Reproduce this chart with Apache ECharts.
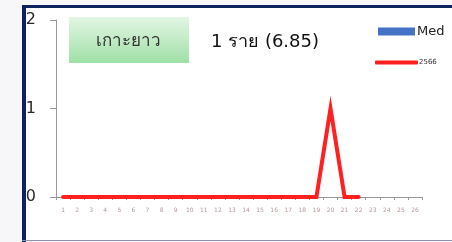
<!DOCTYPE html>
<html><head><meta charset="utf-8">
<script src="https://cdn.jsdelivr.net/npm/echarts@6/dist/echarts.min.js"></script>
<style>html,body{margin:0;padding:0;background:#f7f7f9;}#c{width:452px;height:242px;}</style>
</head><body><div id="c"></div>
<script>
const categories = ['1','2','3','4','5','6','7','8','9','10','11','12','13','14','15','16','17','18','19','20','21','22','23','24','25','26'];
const medValues = [0,0,0,0,0,0,0,0,0,0,0,0,0,0,0,0,0,0,0,0,0,0,0,0,0,0];
const y2566Values = [0,0,0,0,0,0,0,0,0,0,0,0,0,0,0,0,0,0,0,1,0,0];
const yTicks = [0,1,2];
const titleText = 'เกาะยาว';
const caseText = '1 ราย (6.85)';
const FONT = 'Tahoma, "DejaVu Sans", "Noto Sans", "Liberation Sans", sans-serif';

const chart = echarts.init(document.getElementById('c'), null, {renderer:'canvas'});
chart.setOption({
  backgroundColor: 'transparent',
  animation: false,
  graphic: [
    {type:'rect', z:-10, shape:{x:22,y:5,width:440,height:236}, style:{fill:'#ffffff'}},
    {type:'rect', z:-9, shape:{x:22,y:5,width:4,height:237}, style:{fill:'#0d2360'}},
    {type:'rect', z:-9, shape:{x:22,y:5,width:440,height:3}, style:{fill:'#0d2360'}},
    {type:'rect', z:-9, shape:{x:22,y:240,width:440,height:1}, style:{fill:'#8a93b0'}},
    {type:'rect', z:5, shape:{x:69,y:17,width:120,height:46},
      style:{fill:new echarts.graphic.LinearGradient(0,0,0,1,[{offset:0,color:'#e3f6e4'},{offset:1,color:'#9fe0a6'}])}},
    {type:'text', z:6, style:{text:titleText, x:128, y:42, textAlign:'center', textVerticalAlign:'middle', font:'17px '+FONT, fill:'#333'}},
    {type:'text', z:6, style:{text:caseText, x:211, y:42, textAlign:'left', textVerticalAlign:'middle', font:'18px '+FONT, fill:'#111'}}
  ],
  legend: [
    {data:['Med'], left:378, top:25, padding:0, icon:'rect', itemWidth:37, itemHeight:8, itemGap:4,
      textStyle:{fontSize:13, color:'#222', fontFamily:FONT, padding:[0,0,0,-3]}},
    {data:['2566'], left:375, top:59, padding:0, icon:'roundRect', itemWidth:43, itemHeight:4,
      textStyle:{fontSize:7, color:'#333', fontFamily:FONT, padding:[0,0,0,-4]}}
  ],
  grid: {left:56, top:20, right:30, bottom:45, containLabel:false},
  xAxis: {
    type:'category', data:categories, boundaryGap:true,
    axisLine:{show:true, lineStyle:{color:'#999', width:1}},
    axisTick:{show:true, inside:false, length:3, alignWithLabel:false, lineStyle:{color:'#999'}},
    axisLabel:{fontSize:6, color:'#b59a9a', margin:10, interval:0, fontFamily:FONT}
  },
  yAxis: {
    type:'value', min:0, max:2, interval:1,
    splitLine:{show:false},
    axisLine:{show:true, lineStyle:{color:'#999', width:1}},
    axisTick:{show:true, length:6, lineStyle:{color:'#999'}},
    axisLabel:{fontSize:16, color:'#2a2a2a', margin:20, fontFamily:FONT,
      formatter:function(v){return yTicks.indexOf(v)>=0?String(v):'';}}
  },
  series: [
    {name:'Med', type:'bar', data:medValues, itemStyle:{color:'#4472c4'}, barWidth:'60%'},
    {name:'2566', type:'line', data:y2566Values, symbol:'none', z:4,
      lineStyle:{color:'#ff2020', width:4, cap:'round', join:'miter'}, itemStyle:{color:'#ff2020'}}
  ]
});
</script></body></html>
